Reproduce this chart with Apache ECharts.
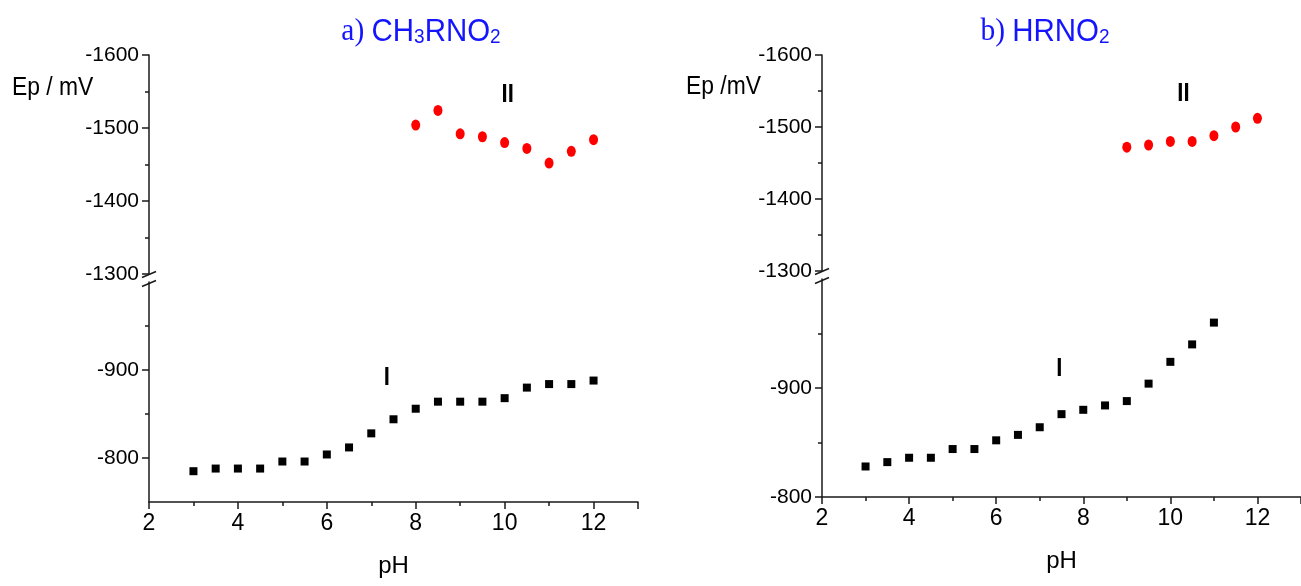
<!DOCTYPE html>
<html>
<head>
<meta charset="utf-8">
<script src="https://cdn.jsdelivr.net/npm/echarts@6/dist/echarts.min.js"></script>
<style>
html,body{margin:0;padding:0;background:#fff;}
#chart{width:1301px;height:586px;}
</style>
</head>
<body>
<div id="chart"></div>
<script>
// ---- data ----
const phRedA = [8, 8.5, 9, 9.5, 10, 10.5, 11, 11.5, 12];
const epRedA = [-1504, -1524, -1492, -1488, -1480, -1472, -1452, -1468, -1484];
const phBlackA = [3, 3.5, 4, 4.5, 5, 5.5, 6, 6.5, 7, 7.5, 8, 8.5, 9, 9.5, 10, 10.5, 11, 11.5, 12];
const epBlackA = [-785, -788, -788, -788, -796, -796, -804, -812, -828, -844, -856, -864, -864, -864, -868, -880, -884, -884, -888];
const phRedB = [9, 9.5, 10, 10.5, 11, 11.5, 12];
const epRedB = [-1472, -1475, -1480, -1480, -1488, -1500, -1512];
const phBlackB = [3, 3.5, 4, 4.5, 5, 5.5, 6, 6.5, 7, 7.5, 8, 8.5, 9, 9.5, 10, 10.5, 11];
const epBlackB = [-828, -832, -836, -836, -844, -844, -852, -857, -864, -876, -880, -884, -888, -904, -924, -940, -960];

const xMajorTicks = [2, 4, 6, 8, 10, 12, 13];
const xLabels = [2, 4, 6, 8, 10, 12];
const xMinorTicks = [3, 5, 7, 9, 11];
const lowerMajorA = [-900, -800];
const lowerMinorA = [-950, -850];
const lowerMajorB = [-900, -800];
const lowerMinorB = [-950, -850];

const titleA = ['a)', 'CH', '3', 'RNO', '2'];
const titleB = ['b)', 'HRNO', '2'];
const yName = ['Ep / mV', 'Ep /mV'];
const xName = 'pH';
const labelI = {A: [7.35, -891], B: [7.45, -918]};
const labelII = {A: [10.07, -1546], B: [10.3, -1546]};

// ---- styles ----
const SANS = "'Liberation Sans', Arial, sans-serif";
const AXC = '#1a1a1a';
const LBL = {fontFamily: SANS, fontSize: 21, color: '#000'};

const grids = [
  {left: 149, top: 55, width: 489, height: 219},
  {left: 149, top: 282, width: 489, height: 220},
  {left: 822, top: 55, width: 482, height: 216},
  {left: 822, top: 279, width: 482, height: 218}
];
const plain = v => String(v);

function hiddenX(g) {
  return {type: 'value', gridIndex: g, min: 2, max: 13, show: false, splitLine: {show: false}};
}
function mainX(g) {
  return {
    type: 'value', gridIndex: g, min: 2, max: 13, interval: 1,
    axisLine: {show: true, onZero: false, lineStyle: {color: AXC, width: 1.5}},
    axisTick: {show: true, length: 7, customValues: xMajorTicks, lineStyle: {color: AXC, width: 1.5}},
    axisLabel: {customValues: xLabels, margin: 10, formatter: plain, ...LBL, fontSize: 23},
    splitLine: {show: false},
    name: xName, nameLocation: 'middle', nameGap: 52,
    nameTextStyle: {...LBL, fontSize: 24}
  };
}
function minorX(g) {
  return {
    type: 'value', gridIndex: g, min: 2, max: 13, position: 'bottom',
    axisLine: {show: false, onZero: false},
    axisTick: {show: true, length: 4, customValues: xMinorTicks, lineStyle: {color: AXC, width: 1.5}},
    axisLabel: {show: false}, splitLine: {show: false}
  };
}
function upperY(g) {
  return {
    type: 'value', gridIndex: g, min: -1600, max: -1300, interval: 100, inverse: true,
    axisLine: {show: true, onZero: false, lineStyle: {color: AXC, width: 1.5}},
    axisTick: {show: true, length: 7, lineStyle: {color: AXC, width: 1.5}},
    minorTick: {show: true, splitNumber: 2, length: 4, lineStyle: {color: AXC, width: 1.5}},
    axisLabel: {margin: 10, formatter: plain, ...LBL},
    splitLine: {show: false}
  };
}
function lowerY(g, maxV, major) {
  return {
    type: 'value', gridIndex: g, min: -1000, max: maxV, interval: 50, inverse: true,
    axisLine: {show: true, onZero: false, lineStyle: {color: AXC, width: 1.5}},
    axisTick: {show: true, length: 7, customValues: major, lineStyle: {color: AXC, width: 1.5}},
    axisLabel: {margin: 10, customValues: major, formatter: plain, ...LBL},
    splitLine: {show: false}
  };
}
function lowerMinorY(g, maxV, minor) {
  return {
    type: 'value', gridIndex: g, min: -1000, max: maxV, inverse: true, position: 'left',
    axisLine: {show: false, onZero: false},
    axisTick: {show: true, length: 4, customValues: minor, lineStyle: {color: AXC, width: 1.5}},
    axisLabel: {show: false}, splitLine: {show: false}
  };
}
function pairs(xs, ys) { return xs.map((x, i) => [x, ys[i]]); }

const chart = echarts.init(document.getElementById('chart'), null, {renderer: 'canvas'});

const RED = {color: '#ff0000', opacity: 1};
const BLK = {color: '#000000', opacity: 1};
const option = {
  animation: false,
  backgroundColor: '#fff',
  grid: grids,
  xAxis: [hiddenX(0), mainX(1), minorX(1), hiddenX(2), mainX(3), minorX(3)],
  yAxis: [upperY(0), lowerY(1, -750, lowerMajorA), lowerMinorY(1, -750, lowerMinorA),
          upperY(2), lowerY(3, -800, lowerMajorB), lowerMinorY(3, -800, lowerMinorB)],
  series: [
    {type: 'scatter', xAxisIndex: 0, yAxisIndex: 0, data: pairs(phRedA, epRedA),
     symbol: 'circle', symbolSize: [9, 11], itemStyle: RED},
    {type: 'scatter', xAxisIndex: 1, yAxisIndex: 1, data: pairs(phBlackA, epBlackA),
     symbol: 'rect', symbolSize: [8, 8], itemStyle: BLK},
    {type: 'scatter', xAxisIndex: 3, yAxisIndex: 3, data: pairs(phRedB, epRedB),
     symbol: 'circle', symbolSize: [9, 11], itemStyle: RED},
    {type: 'scatter', xAxisIndex: 4, yAxisIndex: 4, data: pairs(phBlackB, epBlackB),
     symbol: 'rect', symbolSize: [8, 8], itemStyle: BLK}
  ]
};
chart.setOption(option);

// ---- decorations computed from the axes ----
function px(xi, yi, p) { return chart.convertToPixel({xAxisIndex: xi, yAxisIndex: yi}, p); }
const graphics = [];
function breakMarks(g) {
  const gr = grids[g];
  const x = gr.left;
  const y1 = gr.top + gr.height + 0.5;
  const y2 = grids[g + 1].top + 1.5;
  [y1, y2].forEach(c => graphics.push({
    type: 'line', shape: {x1: x - 7, y1: c + 3, x2: x + 7, y2: c - 3},
    style: {stroke: AXC, lineWidth: 1.5}
  }));
}
breakMarks(0); breakMarks(2);

function romanLabel(text, xi, yi, p) {
  const q = px(xi, yi, p);
  graphics.push({type: 'text', x: q[0], y: q[1], scaleX: 0.85,
    style: {text: text, fontFamily: SANS, fontSize: 26, fontWeight: 'bold', fill: '#000',
            align: 'center', verticalAlign: 'middle'}});
}
romanLabel('I', 1, 1, labelI.A);
romanLabel('II', 0, 0, labelII.A);
romanLabel('I', 4, 4, labelI.B);
romanLabel('II', 3, 3, labelII.B);

graphics.push({type: 'text', x: 12, y: 88, scaleX: 0.88,
  style: {text: yName[0], fontFamily: SANS, fontSize: 26, fill: '#000', verticalAlign: 'middle'}});
graphics.push({type: 'text', x: 686, y: 87, scaleX: 0.88,
  style: {text: yName[1], fontFamily: SANS, fontSize: 26, fill: '#000', verticalAlign: 'middle'}});

const BLUE = '#1414ff';
const richT = {
  s: {fontFamily: "'Liberation Serif', serif", fontSize: 31, fill: BLUE},
  t: {fontFamily: SANS, fontSize: 31, fill: BLUE},
  u: {fontFamily: SANS, fontSize: 20, fill: BLUE, verticalAlign: 'bottom', padding: [10, 0, 0, 0]}
};
graphics.push({type: 'text', x: 421, y: 32, scaleX: 0.95,
  style: {text: '{s|' + titleA[0] + ' }{t|' + titleA[1] + '}{u|' + titleA[2] + '}{t|' + titleA[3] + '}{u|' + titleA[4] + '}',
          rich: richT, align: 'center', verticalAlign: 'middle'}});
graphics.push({type: 'text', x: 1045, y: 32, scaleX: 0.95,
  style: {text: '{s|' + titleB[0] + ' }{t|' + titleB[1] + '}{u|' + titleB[2] + '}',
          rich: richT, align: 'center', verticalAlign: 'middle'}});

chart.setOption({graphic: graphics});
</script>
</body>
</html>
